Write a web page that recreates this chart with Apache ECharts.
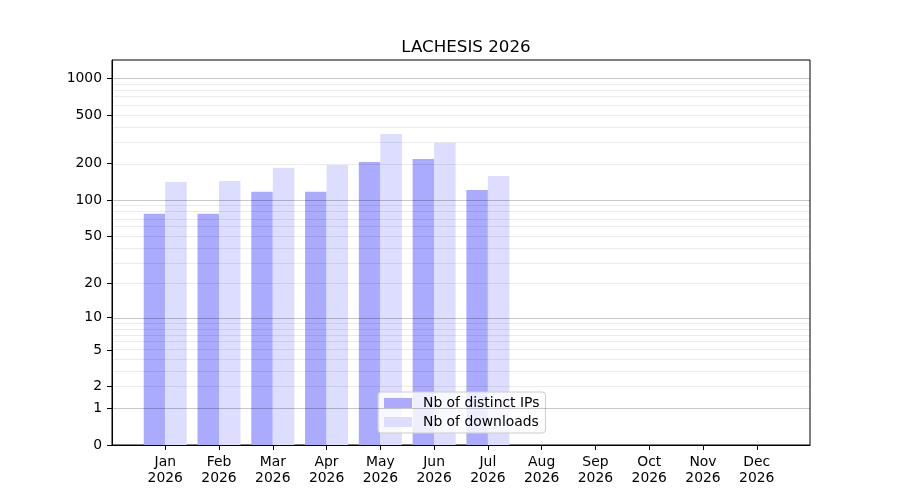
<!DOCTYPE html>
<html>
<head>
<meta charset="utf-8">
<script src="https://cdn.jsdelivr.net/npm/echarts@6.0.0/dist/echarts.min.js"></script>
<style>
  html, body { margin: 0; padding: 0; background: #fff; }
  #main { width: 900px; height: 500px; }
</style>
</head>
<body>
<div id="main"></div>
<script>
// data
var months = ['Jan', 'Feb', 'Mar', 'Apr', 'May', 'Jun', 'Jul', 'Aug', 'Sep', 'Oct', 'Nov', 'Dec'];
var year = '2026';
var distinctIPs = [77, 77, 117, 117, 206, 218, 121, 0, 0, 0, 0, 0];
var downloads = [141, 144, 184, 195, 350, 297, 158, 0, 0, 0, 0, 0];
var yTicks = [0, 1, 2, 5, 10, 20, 50, 100, 200, 500, 1000];
var majorGrid = [1, 10, 100, 1000];
var minorGrid = [2, 3, 4, 5, 6, 7, 8, 9, 20, 30, 40, 50, 60, 70, 80, 90, 200, 300, 400, 500, 600, 700, 800, 900];

// y scale is log10(1 + v)
function tr(v) { return Math.log10(1 + v); }
function untr(t) { return Math.round(Math.pow(10, t) - 1); }

var font = 'DejaVu Sans';

var gridLines = [];
minorGrid.forEach(function (v) {
    gridLines.push({ yAxis: tr(v), lineStyle: { color: 'rgba(0,0,0,0.08)', width: 1, type: 'solid' } });
});
majorGrid.forEach(function (v) {
    gridLines.push({ yAxis: tr(v), lineStyle: { color: 'rgba(0,0,0,0.22)', width: 1, type: 'solid' } });
});

var monthPos = months.map(function (m, i) { return i; });

var chart = echarts.init(document.getElementById('main'), null, { renderer: 'canvas' });

var option = {
    animation: false,
    backgroundColor: '#fff',
    title: {
        text: 'LACHESIS 2026',
        left: 461,
        top: 34,
        textAlign: 'center',
        textStyle: { fontFamily: font, fontSize: 16.7, fontWeight: 'normal', color: '#000' }
    },
    legend: {
        orient: 'vertical',
        left: 378,
        top: 392,
        padding: [4, 6, 4, 6],
        itemGap: 5,
        itemWidth: 28,
        itemHeight: 10,
        icon: 'rect',
        backgroundColor: 'rgba(255,255,255,0.8)',
        borderColor: '#cccccc',
        borderWidth: 1,
        borderRadius: 3,
        textStyle: { fontFamily: font, fontSize: 13.9, color: '#000', padding: [0, 0, 0, 6] },
        data: ['Nb of distinct IPs', 'Nb of downloads']
    },
    grid: {
        left: 112,
        right: 90,
        top: 60,
        bottom: 55,
        show: true,
        borderColor: '#000',
        borderWidth: 1,
        backgroundColor: 'transparent'
    },
    xAxis: {
        type: 'value',
        min: -0.99,
        max: 11.99,
        axisLine: { show: true, onZero: false, lineStyle: { color: '#000', width: 1 } },
        axisTick: { show: true, length: 5, inside: false, customValues: monthPos, lineStyle: { color: '#000' } },
        axisLabel: {
            customValues: monthPos,
            formatter: function (v) { return months[Math.round(v)] + '\n' + year; },
            fontFamily: font,
            fontSize: 13.9,
            color: '#000',
            lineHeight: 16,
            margin: 9
        },
        splitLine: { show: false }
    },
    yAxis: {
        type: 'value',
        min: 0,
        max: 3.1506,
        axisLine: { show: true, onZero: false, lineStyle: { color: '#000', width: 1 } },
        axisTick: { show: true, length: 5, customValues: yTicks.map(tr), lineStyle: { color: '#000' } },
        axisLabel: {
            customValues: yTicks.map(tr),
            formatter: function (v) { return String(untr(v)); },
            fontFamily: font,
            fontSize: 13.9,
            color: '#000',
            margin: 10,
            padding: [2, 0, 0, 0]
        },
        splitLine: { show: false }
    },
    series: [
        {
            name: 'Nb of distinct IPs',
            type: 'bar',
            barWidth: 21.5,
            barGap: '0%',
            itemStyle: { color: '#aaaaff' },
            data: distinctIPs.map(function (v, i) { return [i, tr(v)]; }),
            markLine: {
                silent: true,
                symbol: ['none', 'none'],
                label: { show: false },
                z: 5,
                data: gridLines
            }
        },
        {
            name: 'Nb of downloads',
            type: 'bar',
            barWidth: 21.5,
            barGap: '0%',
            itemStyle: { color: '#ddddff' },
            data: downloads.map(function (v, i) { return [i, tr(v)]; })
        }
    ]
};

chart.setOption(option);
</script>
</body>
</html>
